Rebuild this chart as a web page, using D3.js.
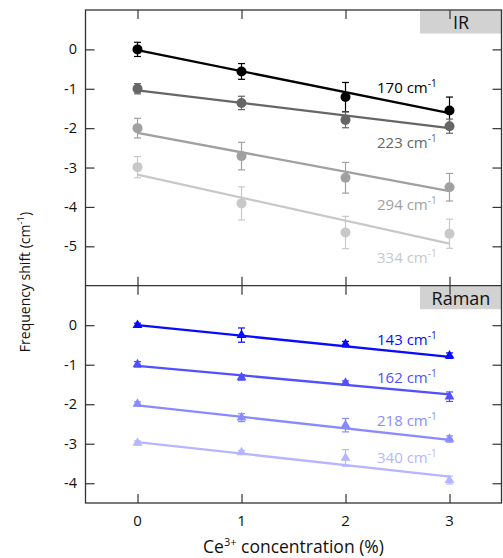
<!DOCTYPE html>
<html>
<head>
<meta charset="utf-8">
<script src="https://cdn.jsdelivr.net/npm/d3@7"></script>
<style>
  html, body { margin: 0; padding: 0; background: #fff; }
  svg { display: block; font-family: "Open Sans", "Noto Sans", sans-serif; }
</style>
</head>
<body>
<svg id="chart" width="503" height="558"></svg>
<script>
// ---- data ----
const concentrations = [0, 1, 2, 3];
const xTicks = [0, 1, 2, 3];

const irModes = ["170", "223", "294", "334"];
const irColors = ["#000000", "#666666", "#a0a0a0", "#c8c8c8"];
const irValues = [
  [0.00, -0.56, -1.21, -1.55],
  [-1.00, -1.36, -1.79, -1.95],
  [-2.00, -2.71, -3.26, -3.50],
  [-2.99, -3.91, -4.65, -4.68]
];
const irErrors = [
  [0.18, 0.20, 0.37, 0.34],
  [0.13, 0.17, 0.20, 0.18],
  [0.25, 0.35, 0.39, 0.35],
  [0.27, 0.42, 0.41, 0.37]
];
const irFitStart = [-0.02, -1.04, -2.12, -3.18];
const irFitEnd = [-1.62, -2.00, -3.60, -4.93];
const irLabelY = [-0.98, -2.38, -3.95, -5.29];
const irTicks = [0, -1, -2, -3, -4, -5];

const ramanModes = ["143", "162", "218", "340"];
const ramanColors = ["#0a0aff", "#5050ff", "#8a8aff", "#b6b6ff"];
const ramanValues = [
  [0.00, -0.25, -0.48, -0.77],
  [-0.99, -1.32, -1.46, -1.81],
  [-1.99, -2.34, -2.53, -2.88],
  [-2.98, -3.22, -3.36, -3.92]
];
const ramanErrors = [
  [0.05, 0.18, 0.07, 0.07],
  [0.07, 0.07, 0.05, 0.12],
  [0.05, 0.10, 0.17, 0.08],
  [0.05, 0.05, 0.21, 0.10]
];
const ramanFitStart = [0.00, -1.03, -2.03, -2.96];
const ramanFitEnd = [-0.80, -1.75, -2.90, -3.83];
const ramanLabelY = [-0.37, -1.33, -2.42, -3.36];
const ramanTicks = [0, -1, -2, -3, -4];

// ---- layout ----
const svg = d3.select("#chart");
const left = 85.5, right = 501.5;
const x = d3.scaleLinear().domain([-0.5, 3.5]).range([left, right]);

const frameColor = "#333";
const tickLen = 9;

function drawPanel(cfg) {
  const y = d3.scaleLinear().domain(cfg.domain).range([cfg.top, cfg.bottom]);
  const g = svg.append("g");

  // label box
  g.append("rect")
    .attr("x", 420).attr("y", cfg.top + 0.5)
    .attr("width", right - 420).attr("height", 23)
    .attr("fill", "#d2d2d2");
  g.append("text")
    .attr("x", 461).attr("y", cfg.top + 19)
    .attr("text-anchor", "middle")
    .attr("font-size", 18).attr("fill", "#111")
    .text(cfg.name);

  // left axis
  const yl = g.append("g").attr("transform", `translate(${left},0)`)
    .call(d3.axisRight(y).tickValues(cfg.ticks).tickSize(tickLen).tickFormat(""));
  yl.select(".domain").remove();
  yl.selectAll("line").attr("stroke", frameColor).attr("stroke-width", 1.2);
  g.selectAll(".ylab").data(cfg.ticks).join("text")
    .attr("x", 77).attr("y", d => y(d) + 5)
    .attr("text-anchor", "end").attr("font-size", 14.5).attr("fill", "#111")
    .text(d => d === 0 ? "0" : "-" + Math.abs(d));

  // right axis
  const yr = g.append("g").attr("transform", `translate(${right},0)`)
    .call(d3.axisLeft(y).tickValues(cfg.ticks).tickSize(tickLen).tickFormat(""));
  yr.select(".domain").remove();
  yr.selectAll("line").attr("stroke", frameColor).attr("stroke-width", 1.2);

  // top / bottom x ticks
  const xt = g.append("g").attr("transform", `translate(0,${cfg.top})`)
    .call(d3.axisBottom(x).tickValues(xTicks).tickSize(tickLen).tickFormat(""));
  xt.select(".domain").remove();
  xt.selectAll("line").attr("stroke", frameColor).attr("stroke-width", 1.2);
  const xb = g.append("g").attr("transform", `translate(0,${cfg.bottom})`)
    .call(d3.axisTop(x).tickValues(xTicks).tickSize(tickLen).tickFormat(""));
  xb.select(".domain").remove();
  xb.selectAll("line").attr("stroke", frameColor).attr("stroke-width", 1.2);

  // series
  cfg.values.forEach((vals, i) => {
    const col = cfg.colors[i];
    const pts = concentrations.map((c, j) => ({c, v: vals[j], e: cfg.errors[i][j]}));
    const sg = g.append("g");
    // fit line
    sg.append("line")
      .attr("x1", x(0)).attr("y1", y(cfg.fitStart[i]))
      .attr("x2", x(3)).attr("y2", y(cfg.fitEnd[i]))
      .attr("stroke", col).attr("stroke-width", 2.3);
    // error bars
    const eb = sg.selectAll(".eb").data(pts).join("g");
    eb.append("line")
      .attr("x1", d => x(d.c)).attr("x2", d => x(d.c))
      .attr("y1", d => y(d.v + d.e)).attr("y2", d => y(d.v - d.e))
      .attr("stroke", col).attr("stroke-width", 1.2);
    eb.append("line")
      .attr("x1", d => x(d.c) - 3.5).attr("x2", d => x(d.c) + 3.5)
      .attr("y1", d => y(d.v + d.e)).attr("y2", d => y(d.v + d.e))
      .attr("stroke", col).attr("stroke-width", 1.2);
    eb.append("line")
      .attr("x1", d => x(d.c) - 3.5).attr("x2", d => x(d.c) + 3.5)
      .attr("y1", d => y(d.v - d.e)).attr("y2", d => y(d.v - d.e))
      .attr("stroke", col).attr("stroke-width", 1.2);
    // markers
    if (cfg.marker === "circle") {
      sg.selectAll(".m").data(pts).join("circle")
        .attr("cx", d => x(d.c)).attr("cy", d => y(d.v)).attr("r", 5)
        .attr("fill", col);
    } else {
      const tri = d3.symbol().type(d3.symbolTriangle).size(42);
      sg.selectAll(".m").data(pts).join("path")
        .attr("d", tri)
        .attr("transform", d => `translate(${x(d.c)},${y(d.v)})`)
        .attr("fill", col);
    }
    // label
    const t = sg.append("text")
      .attr("x", 377).attr("y", y(cfg.labelY[i]) + 5)
      .attr("font-size", 15).attr("fill", col);
    t.append("tspan").text(cfg.modes[i] + " cm");
    t.append("tspan").attr("dy", -6).attr("font-size", 10).text("-1");
  });
}

drawPanel({
  name: "IR", top: 10, bottom: 285.7, domain: [1, -6],
  ticks: irTicks, values: irValues, errors: irErrors, colors: irColors,
  fitStart: irFitStart, fitEnd: irFitEnd, labelY: irLabelY, modes: irModes,
  marker: "circle"
});
drawPanel({
  name: "Raman", top: 285.7, bottom: 503, domain: [1, -4.5],
  ticks: ramanTicks, values: ramanValues, errors: ramanErrors, colors: ramanColors,
  fitStart: ramanFitStart, fitEnd: ramanFitEnd, labelY: ramanLabelY, modes: ramanModes,
  marker: "triangle"
});

// frames
svg.append("rect").attr("x", left).attr("y", 10)
  .attr("width", right - left).attr("height", 503 - 10)
  .attr("fill", "none").attr("stroke", frameColor).attr("stroke-width", 1.3);
svg.append("line").attr("x1", left).attr("x2", right)
  .attr("y1", 285.7).attr("y2", 285.7)
  .attr("stroke", frameColor).attr("stroke-width", 1.3);

// x tick labels
svg.selectAll(".xlab").data(xTicks).join("text")
  .attr("x", d => x(d)).attr("y", 526)
  .attr("text-anchor", "middle").attr("font-size", 15).attr("fill", "#111")
  .text(d => d);

// x axis title
const xt = svg.append("text").attr("x", (left + right) / 2).attr("y", 553)
  .attr("text-anchor", "middle").attr("font-size", 17.5).attr("fill", "#111");
xt.append("tspan").text("Ce");
xt.append("tspan").attr("dy", -7).attr("font-size", 11).text("3+");
xt.append("tspan").attr("dy", 7).text(" concentration (%)");

// y axis title
const yt = svg.append("text")
  .attr("transform", "translate(30,282) rotate(-90)")
  .attr("text-anchor", "middle").attr("font-size", 14).attr("fill", "#111");
yt.append("tspan").text("Frequency shift (cm");
yt.append("tspan").attr("dy", -6).attr("font-size", 9.5).text("-1");
yt.append("tspan").attr("dy", 6).text(")");
</script>
</body>
</html>
